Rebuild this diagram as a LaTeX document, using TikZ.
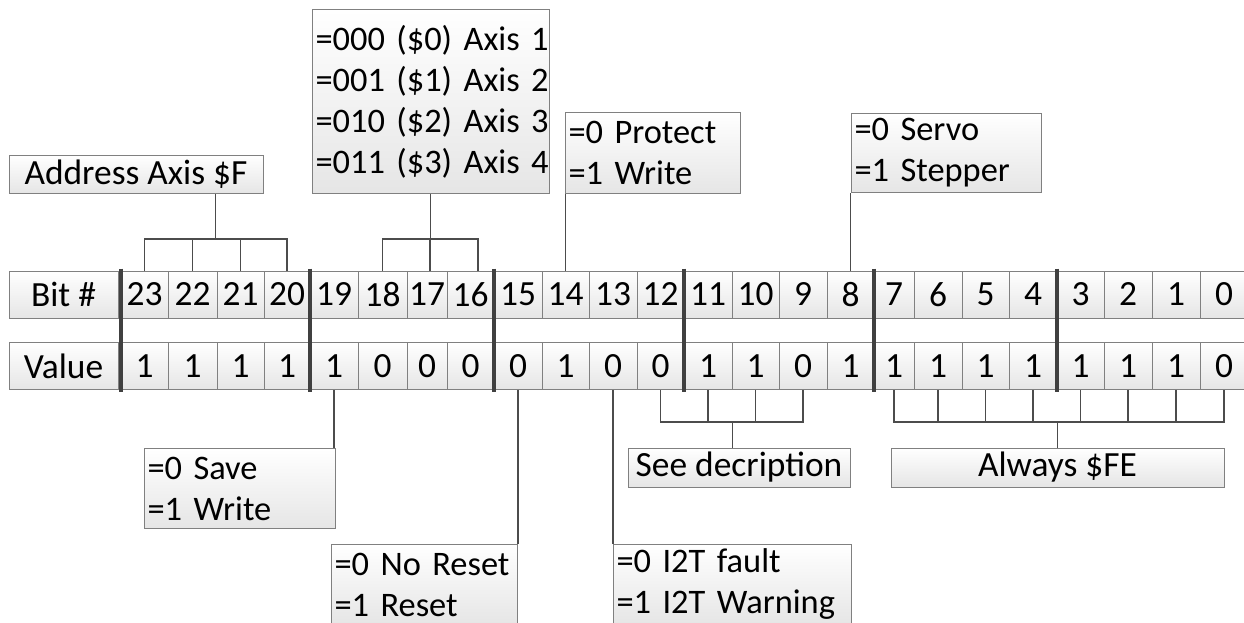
\documentclass[tikz,border=0pt]{standalone}
\usepackage{fontspec}
\setmainfont{Carlito}
\usetikzlibrary{positioning, calc}

\newcommand{\cellfont}{\fontsize{35.4pt}{42pt}\selectfont}
\newcommand{\notefont}{\fontsize{34.4pt}{41pt}\selectfont}

\begin{document}
\begin{tikzpicture}[
        x=1pt, y=-1pt,
        cell/.style={rectangle, draw=black!50, line width=1pt, top color=white, bottom color=black!10,
                     minimum height=47pt, inner sep=0pt, font=\cellfont},
        tagbox/.style={rectangle, draw=black!50, line width=1pt, top color=white, bottom color=black!10,
                       inner sep=0pt, font=\cellfont},
        note/.style={rectangle, draw=black!50, line width=1pt, top color=white, bottom color=black!10,
                     inner xsep=3pt, inner ysep=0pt, anchor=north west, align=left, font=\notefont},
        link/.style={draw=black!70, line width=1.5pt},
        divider/.style={draw=black!75, line width=4pt}
    ]
        \useasboundingbox (0,0) rectangle (1244,623);
        \clip (0,0) rectangle (1244,623);

        % register rows
        \node[cell, minimum width=109pt] (bithead) at (63.5,294.5) {Bit \#};
        \node[cell, minimum width=109pt] (valhead) at (63.5,366) {Value};
        \foreach \bit/\lft/\rgt/\val in {23/121/168/1, 22/168/217/1, 21/217/264/1, 20/264/310/1,
                19/310/358/1, 18/358/407/0, 17/407/447/0, 16/447/494/0,
                15/494/542/0, 14/542/589/1, 13/589/637/0, 12/637/684/0,
                11/684/732/1, 10/732/779/1, 9/779/827/0, 8/827/874/1,
                7/874/914/1, 6/914/962/1, 5/962/1009/1, 4/1009/1057/1,
                3/1057/1104/1, 2/1104/1152/1, 1/1152/1200/1, 0/1200/1248/0}{
            \node[cell, minimum width={(\rgt-\lft)*1pt}] (b\bit) at ({(\lft+\rgt)/2},294.5) {\bit};
            \node[cell, minimum width={(\rgt-\lft)*1pt}] (v\bit) at ({(\lft+\rgt)/2},366) {\val};
        }
        \foreach \n in {23,19,15,11,7,3}
            \draw[divider] ([yshift=2pt]b\n.north west) -- ([yshift=-2pt]v\n.south west);

        % boxes above
        \node[tagbox, minimum width=254pt, minimum height=38pt] (addr) at (136,174) {Address Axis \$F};
        \node[note, text width=231pt, minimum height=184pt] (axis) at (312,9)
            {\mbox{=000 (\$0) Axis 1}\\\mbox{=001 (\$1) Axis 2}\\\mbox{=010 (\$2) Axis 3}\\\mbox{=011 (\$3) Axis 4}};
        \node[note, text width=169pt, minimum height=81pt] (protect) at (565,112)
            {\mbox{=0 Protect}\\\mbox{=1 Write}};
        \node[note, text width=184pt, minimum height=79pt] (servo) at (851,113)
            {\mbox{=0 Servo}\\\mbox{=1 Stepper}};

        % boxes below
        \node[note, text width=185pt, minimum height=80pt] (save) at (144,448)
            {\mbox{=0 Save}\\\mbox{=1 Write}};
        \node[note, text width=180pt, minimum height=80pt] (noreset) at (331,544)
            {\mbox{=0 No Reset}\\\mbox{=1 Reset}};
        \node[note, text width=232pt, minimum height=80pt] (fault) at (613,544)
            {\mbox{=0 I2T fault}\\\mbox{=1 I2T Warning}};
        \node[tagbox, minimum width=222pt, minimum height=39pt] (desc) at (739,467.5) {See decription};
        \node[tagbox, minimum width=333pt, minimum height=39pt] (always) at (1057.5,467.5) {Always \$FE};

        % brackets above
        \coordinate (addrbar) at (215.5,239);
        \draw[link] (b23.north) |- (b20.north |- addrbar) -- (b20.north);
        \draw[link] (b22.north) -- (b22.north |- addrbar);
        \draw[link] (b21.north) -- (b21.north |- addrbar);
        \draw[link] (addrbar) -- (addrbar |- addr.south);

        \coordinate (axisbar) at (430.5,239);
        \coordinate (t17) at ([xshift=3pt]b17.north);
        \coordinate (t16) at ([xshift=7.5pt]b16.north);
        \draw[link] (b18.north) |- (t16 |- axisbar) -- (t16);
        \draw[link] (t17) -- (t17 |- axisbar);
        \draw[link] (axisbar) -- (axisbar |- axis.south);

        \draw[link] (b14.north) -- (b14.north |- protect.south);
        \draw[link] (b8.north) -- (b8.north |- servo.south);

        % brackets below
        \draw[link] (v19.south) -- (v19.south |- save.north);
        \draw[link] (v15.south) -- (v15.south |- noreset.north);
        \draw[link] (v13.south) -- (v13.south |- fault.north);

        \coordinate (descbar) at (732.5,422);
        \draw[link] (v12.south) |- (v9.south |- descbar) -- (v9.south);
        \foreach \n in {11,10}
            \draw[link] (v\n.south) -- (v\n.south |- descbar);
        \draw[link] (descbar) -- (descbar |- desc.north);

        \coordinate (febar) at (1057.5,422);
        \draw[link] (v7.south) |- (v0.south |- febar) -- (v0.south);
        \foreach \n in {6,5,4,3,2,1}
            \draw[link] (v\n.south) -- (v\n.south |- febar);
        \draw[link] (febar) -- (febar |- always.north);
\end{tikzpicture}
\end{document}
